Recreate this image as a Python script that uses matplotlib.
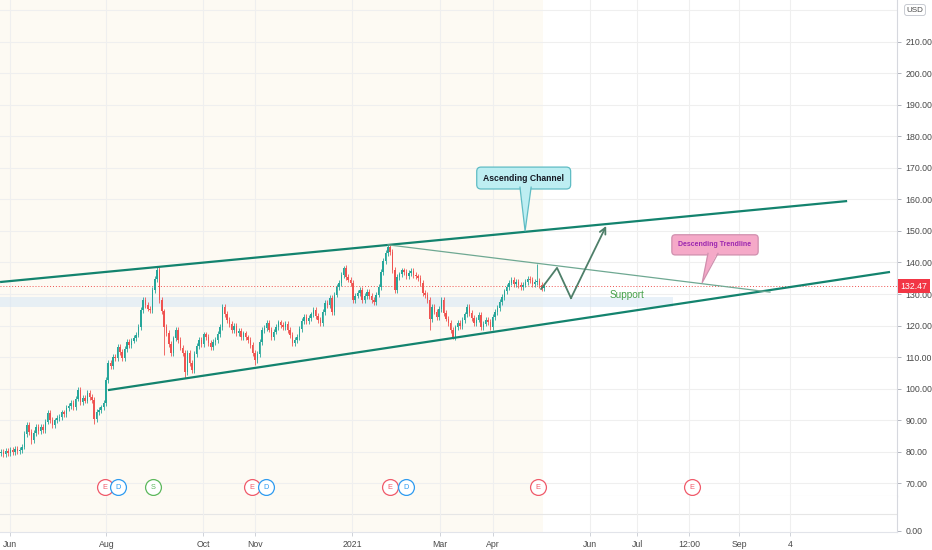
import numpy as np
import matplotlib
matplotlib.use("Agg")
import matplotlib.pyplot as plt
from matplotlib.patches import Polygon
from matplotlib.transforms import blended_transform_factory

plt.rcParams['font.family'] = ['Liberation Sans', 'DejaVu Sans']

# ---------------- data ----------------
closes = [
    79.8, 79.2, 80.3, 79.5, 80.6, 79.9, 80.8, 80.2, 80.5, 81.6,
    85.5, 88.4, 86.2, 83.7, 85.9, 87.8, 86.5, 87.9, 86.8, 89.5,
    92.2, 90.1, 88.4, 89.9, 90.6, 91.0, 92.4, 91.8, 93.8, 94.5,
    95.4, 94.2, 96.8, 99.5, 95.7, 97.1, 96.2, 98.6, 97.4, 96.3,
    90.2, 92.5, 93.1, 94.0, 95.4, 102.7, 108.0, 107.1, 110.0, 109.7,
    113.2, 111.5, 109.7, 112.6, 114.8, 113.9, 115.2, 116.0, 117.1, 119.5,
    124.9, 128.0, 126.5, 125.4, 125.0, 131.3, 134.8, 137.6, 128.1, 124.5,
    119.5, 117.6, 114.2, 111.3, 115.9, 118.6, 115.4, 113.0, 111.3, 105.2,
    111.3, 108.2, 105.9, 111.0, 113.6, 115.4, 114.1, 117.2, 116.3, 114.5,
    113.2, 114.8, 115.4, 117.3, 119.5, 125.9, 123.6, 121.7, 120.4, 118.6,
    119.8, 117.6, 118.3, 116.3, 117.5, 116.2, 115.4, 113.8, 111.3, 109.0,
    111.0, 114.7, 118.6, 119.2, 120.8, 118.7, 116.3, 118.1, 119.5, 121.0,
    120.2, 119.5, 120.6, 118.6, 116.9, 114.4, 115.5, 116.3, 118.9, 121.5,
    122.7, 121.4, 122.4, 123.5, 124.9, 123.1, 121.7, 120.8, 124.2, 127.1,
    126.5, 128.7, 124.3, 129.8, 132.2, 133.5, 136.1, 138.3, 135.4, 134.6,
    133.5, 128.1, 129.5, 130.3, 131.3, 128.1, 129.4, 130.6, 129.3, 128.1,
    127.5, 129.8, 132.2, 137.0, 140.5, 143.0, 144.9, 143.3, 137.6, 131.3,
    135.4, 136.2, 137.5, 137.0, 135.8, 136.7, 137.2, 136.0, 135.6, 135.1,
    133.5, 130.3, 129.6, 128.1, 122.0, 125.9, 124.4, 122.7, 125.3, 128.1,
    124.0, 122.2, 120.8, 118.6, 116.3, 119.4, 120.8, 119.8, 121.7, 123.5,
    125.9, 124.0, 122.3, 120.8, 121.9, 123.3, 119.5, 120.6, 121.8, 121.1,
    119.5, 122.7, 124.2, 125.6, 127.4, 129.0, 130.8, 132.2, 133.6, 134.4,
    133.1, 133.8, 132.9, 132.2, 133.0, 133.8, 134.9, 134.4, 133.2, 133.8,
    134.2, 132.8, 131.9, 132.47,
]
first_open = 79.5
high_marks = {67: 138.6, 147: 139.0, 166: 146.0, 230: 139.4}
low_marks = {13: 82.5, 40: 88.8, 70: 110.6, 79: 103.3, 109: 107.5, 184: 118.6, 194: 115.8}
last_price = 132.47

price_ticks = [70, 80, 90, 100, 110, 120, 130, 140, 150, 160, 170, 180, 190, 200, 210]
x_labels = ["Jun", "Aug", "Oct", "Nov", "2021", "Mar", "Apr", "Jun", "Jul", "12:00", "Sep", "4"]
x_label_bars = [3.9, 45.2, 86.7, 109.0, 150.6, 188.4, 211.2, 252.8, 273.0, 295.3, 316.7, 338.6]

event_letters = ["E", "D", "S", "E", "D", "E", "D", "E", "E"]
event_bars = [44.6, 50.2, 65.2, 107.7, 113.7, 167.0, 173.9, 230.3, 296.6]
event_level = 68.7

channel_upper_x, channel_upper_y = [-0.4, 363.1], [133.8, 159.5]
channel_lower_x, channel_lower_y = [45.9, 381.5], [99.5, 137.0]
desc_x, desc_y = [166.1, 330.0], [145.6, 130.6]
zig_x = [231.8, 238.6, 244.6, 259.7]
zig_y = [131.6, 138.3, 128.7, 151.6]
support_band = (125.9, 129.0)
support_band_end = 288.4
session_end = 232.6

# ---------------- figure ----------------
W, H = 932, 550
fig = plt.figure(figsize=(W / 100, H / 100), dpi=100)
fig.patch.set_facecolor('white')
ax = fig.add_axes([0, 54 / H, 897 / W, 496 / H])
ax2 = fig.add_axes([0, 18 / H, 897 / W, 36 / H], sharex=ax)

xmin, xmax = -0.43, 384.5
ax.set_xlim(xmin, xmax)
ax.set_ylim(65.9, 223.3)
ax2.set_ylim(-1, 35)

for a in (ax, ax2):
    a.set_facecolor('white')
    a.axvspan(xmin, session_end, color='#fdfaf3', zorder=0.2, lw=0)
    for s in ('top', 'left'):
        a.spines[s].set_visible(False)
    a.spines['right'].set_color('#d6d8de')
    a.spines['bottom'].set_color('#e2e4ea')
    a.spines['right'].set_linewidth(0.8)
    a.spines['bottom'].set_linewidth(0.8)
    a.set_xticks(x_label_bars)
    a.grid(True, color='#efefef', lw=0.8, zorder=0.5)
    a.set_axisbelow(True)

ax.set_yticks(price_ticks)
ax.set_yticklabels([f"{v:.2f}" for v in price_ticks])
ax.yaxis.tick_right()
ax.tick_params(axis='y', length=3, width=0.7, color='#b2b5be', pad=3,
               labelsize=6.3, labelcolor='#4a4a4a')
ax.tick_params(axis='x', length=0, labelbottom=False)
ax.axhline(220, color='#efefef', lw=0.8, zorder=0.5)

ax2.set_yticks([0])
ax2.set_yticklabels(["0.00"])
ax2.yaxis.tick_right()
ax2.tick_params(axis='y', length=3, width=0.7, color='#b2b5be', pad=3,
                labelsize=6.3, labelcolor='#4a4a4a')
ax2.grid(False, axis='y')
ax2.axhline(17, color='#e6e6e6', lw=0.8, zorder=0.5)
ax2.set_xticklabels(x_labels)
ax2.tick_params(axis='x', length=3, width=0.7, color='#cfd2d8', pad=2.5,
                labelsize=6.3, labelcolor='#4a4a4a')

# ---------------- candles ----------------
c = np.array(closes)
o = np.concatenate([[first_open], c[:-1]])
idx = np.arange(len(c))
hi = np.maximum(o, c) + 0.9
lo = np.minimum(o, c) - 0.9
for k, v in high_marks.items():
    hi[k] = v
for k, v in low_marks.items():
    lo[k] = v
up = c >= o
cols = np.where(up, '#26a69a', '#ef5350')
ax.vlines(idx, lo, hi, colors=cols, lw=0.6, zorder=3)
body_h = np.maximum(np.abs(c - o), 0.25)
ax.bar(idx, body_h, bottom=np.minimum(o, c), width=0.62, color=cols, lw=0, zorder=3)

# ---------------- drawings ----------------
ax.axhspan(support_band[0], support_band[1], xmin=0,
           xmax=(support_band_end - xmin) / (xmax - xmin),
           color='#d6e6f5', alpha=0.55, lw=0, zorder=1)
ax.axhline(last_price, color='#ef5350', lw=0.7, ls=(0, (1, 2)), zorder=2)

ax.plot(channel_upper_x, channel_upper_y, color='#13836e', lw=1.6, zorder=4,
        solid_capstyle='butt')
ax.plot(channel_lower_x, channel_lower_y, color='#13836e', lw=1.6, zorder=4,
        solid_capstyle='butt')
ax.plot(desc_x, desc_y, color='#6ea892', lw=0.9, zorder=4)
ax.plot(zig_x[:-1], zig_y[:-1], color='#4e7f69', lw=1.3, zorder=5)
ax.annotate('', xy=(zig_x[-1], zig_y[-1]), xytext=(zig_x[-2], zig_y[-2]),
            arrowprops=dict(arrowstyle='->', color='#4e7f69', lw=1.3,
                            mutation_scale=11, shrinkA=0, shrinkB=0), zorder=5)
ax.text(268.5, 129.7, "Support", color='#45a049', fontsize=7.2,
        ha='center', va='center', zorder=5)


def callout(cx, cy, text, fc, ec, tc, fs, pad, tail):
    ax.text(cx, cy, text, ha='center', va='center', fontsize=fs,
            fontweight='bold', color=tc, zorder=8,
            bbox=dict(boxstyle=f'round,pad={pad},rounding_size=0.5',
                      fc=fc, ec=ec, lw=0.9))
    (x1, x2, xt), (ytop, ytip) = tail
    ax.add_patch(Polygon([(x1, ytop + 0.6), (x2, ytop + 0.6), (xt, ytip)],
                         closed=True, fc=fc, ec='none', zorder=8.5))
    ax.plot([x1, xt, x2], [ytop, ytip, ytop], color=ec, lw=0.9, zorder=8.6)


callout(224.3, 166.8, "Ascending Channel", '#bdeef2', '#5fbcc4', '#131722', 6.2, 0.75,
        ((222.7, 227.5, 224.9), (163.9, 150.0)))
callout(306.4, 145.6, "Descending Trendline", '#f5a9c8', '#d08fae', '#9c27b0', 5.0, 0.95,
        ((303.4, 307.7, 300.9), (142.9, 133.6)))

# ---------------- events ----------------
ev_colors = {'E': '#f05a6a', 'D': '#2e9bf0', 'S': '#5cb85c'}
for letter, xb in zip(event_letters, event_bars):
    col = ev_colors[letter]
    ax.scatter([xb], [event_level], s=130, facecolor='white', edgecolor=col,
               linewidths=0.9, zorder=7, clip_on=False)
    ax.text(xb, event_level, letter, color=col, fontsize=5.3, ha='center',
            va='center', zorder=7.5)

# ---------------- price labels ----------------
tr = blended_transform_factory(ax.transAxes, ax.transData)
ax.text(1.004, last_price, f"{last_price:.2f}", transform=tr, ha='left', va='center',
        fontsize=6.3, color='white', clip_on=False, zorder=10,
        bbox=dict(boxstyle='square,pad=0.3', fc='#f23645', ec='none'))
fig.text(915 / W, 1 - 10 / H, "USD", ha='center', va='center', fontsize=5.8,
         color='#4a4a4a', zorder=10,
         bbox=dict(boxstyle='round,pad=0.25,rounding_size=0.3', fc='white',
                   ec='#c8cbd2', lw=0.7))

fig.savefig('out.png', dpi=100)
